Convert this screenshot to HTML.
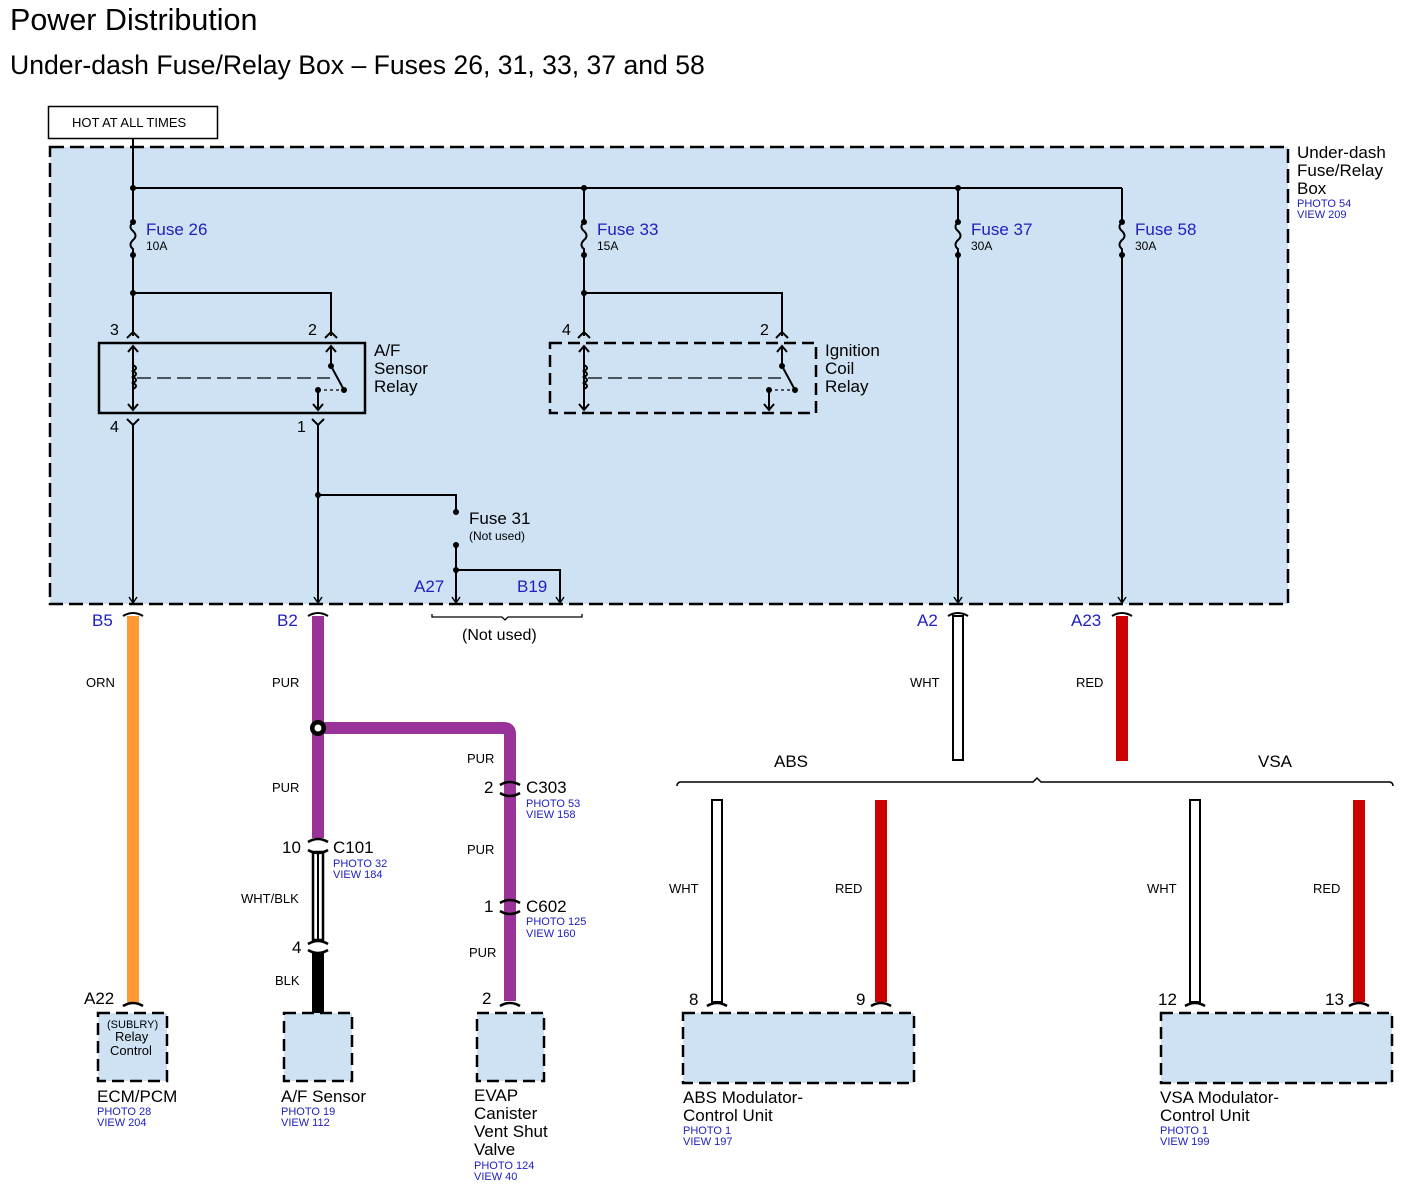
<!DOCTYPE html>
<html><head><meta charset="utf-8"><style>
html,body{margin:0;padding:0;background:#fff}
svg{display:block}
text{font-family:"Liberation Sans",sans-serif;fill:#000}
.b{fill:#2020c0}
</style></head><body>
<svg width="1407" height="1191" viewBox="0 0 1407 1191" xmlns="http://www.w3.org/2000/svg">
<defs>
<marker id="ar" viewBox="0 0 10 10" refX="9" refY="5" markerWidth="10" markerHeight="10" orient="auto" markerUnits="userSpaceOnUse"><path d="M3,1 L9,5 L3,9" fill="none" stroke="#000" stroke-width="1.4"/></marker>
</defs>
<text x="10" y="30" font-size="30.5">Power Distribution</text>
<text x="10" y="74" font-size="26.6">Under-dash Fuse/Relay Box – Fuses 26, 31, 33, 37 and 58</text>
<rect x="48.5" y="106.5" width="169" height="32" fill="#fff" stroke="#000" stroke-width="1.5"/>
<text x="72" y="127" font-size="13">HOT AT ALL TIMES</text>

<rect x="50" y="147" width="1238" height="457" fill="#cfe2f3" stroke="#000" stroke-width="2.5" stroke-dasharray="14,6"/>
<text x="1297" y="158" font-size="17">Under-dash</text>
<text x="1297" y="176" font-size="17">Fuse/Relay</text>
<text x="1297" y="194" font-size="17">Box</text>
<text x="1297" y="207" font-size="11" class="b">PHOTO 54</text>
<text x="1297" y="218" font-size="11" class="b">VIEW 209</text>

<g stroke="#000" stroke-width="2" fill="none">
<line x1="133" y1="138" x2="133" y2="222"/>
<line x1="133" y1="188" x2="1122" y2="188"/>
<path d="M133,222 q-5,5 0,9 q5,5 0,9 q-5,5 0,9 v6"/>
<path d="M584,188 v34 q-5,5 0,9 q5,5 0,9 q-5,5 0,9 v6"/>
<path d="M958,188 v34 q-5,5 0,9 q5,5 0,9 q-5,5 0,9 v6"/>
<path d="M1122,188 v34 q-5,5 0,9 q5,5 0,9 q-5,5 0,9 v6"/>
<line x1="133" y1="255" x2="133" y2="336"/>
<polyline points="133,293 331,293 331,336"/>
<line x1="584" y1="255" x2="584" y2="336"/>
<polyline points="584,293 782,293 782,336"/>
<line x1="958" y1="255" x2="958" y2="603" marker-end="url(#ar)"/>
<line x1="1122" y1="255" x2="1122" y2="603" marker-end="url(#ar)"/>
<path d="M127,338 l6,-6 l6,6 M325,338 l6,-6 l6,6 M578,338 l6,-6 l6,6 M776,338 l6,-6 l6,6"/>
<rect x="99" y="343" width="266" height="70" stroke-width="2.5"/>
<line x1="133" y1="346" x2="133" y2="410"/>
<path d="M128,352 l5,-6 l5,6 M128,404 l5,6 l5,-6"/>
<path d="M133,365 q6,3 0,6 q6,3 0,6 q6,3 0,6 q6,3 0,6"/>
<line x1="137" y1="378" x2="330" y2="378" stroke-width="1.3" stroke-dasharray="14,6"/>
<line x1="331" y1="346" x2="331" y2="366"/>
<path d="M326,352 l5,-6 l5,6"/>
<line x1="331" y1="366" x2="344" y2="390"/>
<line x1="318" y1="390" x2="344" y2="390" stroke-width="1.3" stroke-dasharray="3,3"/>
<line x1="318" y1="390" x2="318" y2="410"/>
<path d="M313,404 l5,6 l5,-6"/>
<path d="M127,419 l6,6 l6,-6 M312,419 l6,6 l6,-6"/>
<line x1="133" y1="425" x2="133" y2="603" marker-end="url(#ar)"/>
<line x1="318" y1="425" x2="318" y2="603" marker-end="url(#ar)"/>
<rect x="550" y="343" width="266" height="70" stroke-width="2.5" stroke-dasharray="12,6"/>
<line x1="584" y1="346" x2="584" y2="410"/>
<path d="M579,352 l5,-6 l5,6 M579,404 l5,6 l5,-6"/>
<path d="M584,365 q6,3 0,6 q6,3 0,6 q6,3 0,6 q6,3 0,6"/>
<line x1="588" y1="378" x2="781" y2="378" stroke-width="1.3" stroke-dasharray="14,6"/>
<line x1="782" y1="346" x2="782" y2="366"/>
<path d="M777,352 l5,-6 l5,6"/>
<line x1="782" y1="366" x2="795" y2="390"/>
<line x1="769" y1="390" x2="795" y2="390" stroke-width="1.3" stroke-dasharray="3,3"/>
<line x1="769" y1="390" x2="769" y2="410"/>
<path d="M764,404 l5,6 l5,-6"/>
<polyline points="318,495 456,495 456,512"/>
<line x1="456" y1="545" x2="456" y2="603" marker-end="url(#ar)"/>
<polyline points="456,570 560,570 560,603" marker-end="url(#ar)"/>
<path d="M123,616 q10,-6 20,0 M308,616 q10,-6 20,0 M948,616 q10,-6 20,0 M1112,616 q10,-6 20,0"/>
<path d="M432,614 v3 h70 l3,3 l3,-3 h74 v-3" stroke-width="1.3"/>
<path d="M677,786 q0,-4 4,-4 h352 l4,-4 l4,4 h348 q4,0 4,4" stroke-width="1.5"/>
</g>
<g fill="#000">
<circle cx="133" cy="188" r="3"/><circle cx="584" cy="188" r="3"/><circle cx="958" cy="188" r="3"/>
<circle cx="133" cy="222" r="3"/><circle cx="133" cy="255" r="3"/><circle cx="584" cy="222" r="3"/><circle cx="584" cy="255" r="3"/>
<circle cx="958" cy="222" r="3"/><circle cx="958" cy="255" r="3"/><circle cx="1122" cy="222" r="3"/><circle cx="1122" cy="255" r="3"/>
<circle cx="133" cy="293" r="3"/><circle cx="584" cy="293" r="3"/>
<circle cx="331" cy="366" r="3"/><circle cx="344" cy="390" r="3"/><circle cx="318" cy="390" r="3"/>
<circle cx="782" cy="366" r="3"/><circle cx="795" cy="390" r="3"/><circle cx="769" cy="390" r="3"/>
<circle cx="318" cy="495" r="3"/><circle cx="456" cy="512" r="3"/><circle cx="456" cy="545" r="3"/><circle cx="456" cy="570" r="3"/>
</g>
<text x="146" y="235" font-size="17" class="b">Fuse 26</text><text x="146" y="250" font-size="12">10A</text>
<text x="597" y="235" font-size="17" class="b">Fuse 33</text><text x="597" y="250" font-size="12">15A</text>
<text x="971" y="235" font-size="17" class="b">Fuse 37</text><text x="971" y="250" font-size="12">30A</text>
<text x="1135" y="235" font-size="17" class="b">Fuse 58</text><text x="1135" y="250" font-size="12">30A</text>
<text x="110" y="335" font-size="16">3</text><text x="308" y="335" font-size="16">2</text>
<text x="562" y="335" font-size="16">4</text><text x="760" y="335" font-size="16">2</text>
<text x="110" y="432" font-size="16">4</text><text x="297" y="432" font-size="16">1</text>
<text x="374" y="356" font-size="17">A/F</text><text x="374" y="374" font-size="17">Sensor</text><text x="374" y="392" font-size="17">Relay</text>
<text x="825" y="356" font-size="17">Ignition</text><text x="825" y="374" font-size="17">Coil</text><text x="825" y="392" font-size="17">Relay</text>
<text x="469" y="524" font-size="17">Fuse 31</text><text x="469" y="540" font-size="12">(Not used)</text>
<text x="414" y="592" font-size="17" class="b">A27</text><text x="517" y="592" font-size="17" class="b">B19</text>
<text x="462" y="640" font-size="16">(Not used)</text>
<text x="92" y="626" font-size="17" class="b">B5</text><text x="277" y="626" font-size="17" class="b">B2</text>
<text x="917" y="626" font-size="17" class="b">A2</text><text x="1071" y="626" font-size="17" class="b">A23</text>

<rect x="127" y="616" width="12" height="387" fill="#ff9933"/>
<path d="M318,616 V838" stroke="#993399" stroke-width="12" fill="none"/>
<path d="M318,728 H504 q6,0 6,6 V1001" stroke="#993399" stroke-width="12" fill="none"/>
<circle cx="318" cy="728" r="8" fill="#000"/><circle cx="318" cy="728" r="3.5" fill="#fff"/>
<rect x="313" y="852" width="10" height="88" fill="#fff" stroke="#000" stroke-width="2.5"/>
<line x1="318" y1="852" x2="318" y2="940" stroke="#000" stroke-width="2"/>
<rect x="312" y="952" width="12" height="61" fill="#000"/>
<rect x="953" y="616" width="10" height="144" fill="#fff" stroke="#000" stroke-width="2"/>
<rect x="1116" y="616" width="12" height="145" fill="#cc0000"/>
<rect x="712" y="800" width="10" height="202" fill="#fff" stroke="#000" stroke-width="2"/>
<rect x="875" y="800" width="12" height="202" fill="#cc0000"/>
<rect x="1190" y="800" width="10" height="202" fill="#fff" stroke="#000" stroke-width="2"/>
<rect x="1353" y="800" width="12" height="202" fill="#cc0000"/>
<g stroke="#000" stroke-width="2.5" fill="none">
<path d="M308,842 q10,-6 20,0 M308,850 q10,6 20,0"/>
<path d="M308,944 q10,-6 20,0 M308,950 q10,6 20,0"/>
<path d="M500,785 q10,-6 20,0 M500,793 q10,6 20,0"/>
<path d="M500,903 q10,-6 20,0 M500,911 q10,6 20,0"/>
<path d="M123,1006 q10,-6 20,0 M500,1006 q10,-6 20,0 M707,1006 q10,-6 20,0 M871,1006 q10,-6 20,0 M1185,1006 q10,-6 20,0 M1349,1006 q10,-6 20,0"/>
</g>
<g font-size="13">
<text x="86" y="687">ORN</text><text x="272" y="687">PUR</text><text x="272" y="792">PUR</text>
<text x="241" y="903">WHT/BLK</text><text x="275" y="985">BLK</text>
<text x="467" y="763">PUR</text><text x="467" y="854">PUR</text><text x="469" y="957">PUR</text>
<text x="910" y="687">WHT</text><text x="1076" y="687">RED</text>
<text x="669" y="893">WHT</text><text x="835" y="893">RED</text>
<text x="1147" y="893">WHT</text><text x="1313" y="893">RED</text>
</g>
<text x="774" y="767" font-size="17">ABS</text><text x="1258" y="767" font-size="17">VSA</text>
<text x="282" y="853" font-size="17">10</text><text x="333" y="853" font-size="17">C101</text>
<text x="333" y="867" font-size="11" class="b">PHOTO 32</text><text x="333" y="878" font-size="11" class="b">VIEW 184</text>
<text x="292" y="953" font-size="17">4</text>
<text x="484" y="793" font-size="17">2</text><text x="526" y="793" font-size="17">C303</text>
<text x="526" y="807" font-size="11" class="b">PHOTO 53</text><text x="526" y="818" font-size="11" class="b">VIEW 158</text>
<text x="484" y="912" font-size="17">1</text><text x="526" y="912" font-size="17">C602</text>
<text x="526" y="925" font-size="11" class="b">PHOTO 125</text><text x="526" y="937" font-size="11" class="b">VIEW 160</text>
<text x="482" y="1004" font-size="17">2</text>
<text x="84" y="1004" font-size="17">A22</text>
<text x="689" y="1005" font-size="17">8</text><text x="856" y="1005" font-size="17">9</text>
<text x="1158" y="1005" font-size="17">12</text><text x="1325" y="1005" font-size="17">13</text>
<g fill="#cfe2f3" stroke="#000" stroke-width="2.5" stroke-dasharray="12,6">
<rect x="98" y="1013" width="69" height="68"/>
<rect x="284" y="1013" width="68" height="68"/>
<rect x="477" y="1013" width="67" height="68"/>
<rect x="683" y="1013" width="231" height="70"/>
<rect x="1161" y="1013" width="231" height="70"/>
</g>
<text x="107" y="1028" font-size="11">(SUBLRY)</text>
<text x="115" y="1041" font-size="13">Relay</text><text x="110" y="1055" font-size="13">Control</text>
<text x="97" y="1102" font-size="17">ECM/PCM</text>
<text x="97" y="1115" font-size="11" class="b">PHOTO 28</text><text x="97" y="1126" font-size="11" class="b">VIEW 204</text>
<text x="281" y="1102" font-size="17">A/F Sensor</text>
<text x="281" y="1115" font-size="11" class="b">PHOTO 19</text><text x="281" y="1126" font-size="11" class="b">VIEW 112</text>
<text x="474" y="1101" font-size="17">EVAP</text><text x="474" y="1119" font-size="17">Canister</text>
<text x="474" y="1137" font-size="17">Vent Shut</text><text x="474" y="1155" font-size="17">Valve</text>
<text x="474" y="1169" font-size="11" class="b">PHOTO 124</text><text x="474" y="1180" font-size="11" class="b">VIEW 40</text>
<text x="683" y="1103" font-size="17">ABS Modulator-</text><text x="683" y="1121" font-size="17">Control Unit</text>
<text x="683" y="1134" font-size="11" class="b">PHOTO 1</text><text x="683" y="1145" font-size="11" class="b">VIEW 197</text>
<text x="1160" y="1103" font-size="17">VSA Modulator-</text><text x="1160" y="1121" font-size="17">Control Unit</text>
<text x="1160" y="1134" font-size="11" class="b">PHOTO 1</text><text x="1160" y="1145" font-size="11" class="b">VIEW 199</text>
</svg>
</body></html>
